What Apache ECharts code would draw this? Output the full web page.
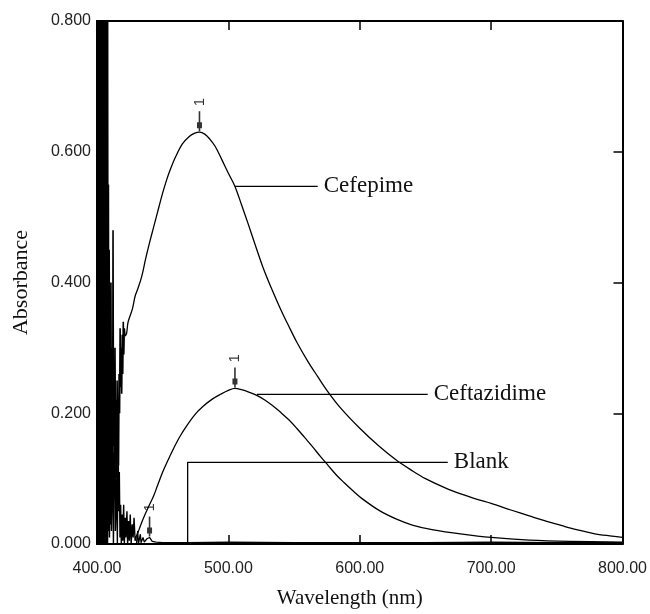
<!DOCTYPE html>
<html>
<head>
<meta charset="utf-8">
<script src="https://cdn.jsdelivr.net/npm/echarts@6/dist/echarts.min.js"></script>
<style>
  html, body { margin: 0; padding: 0; background: #fff; }
  #main { width: 650px; height: 614px; }
</style>
</head>
<body>
<div id="main"></div>
<script>
// wavelength (nm) / absorbance
// noisy start of the cefepime scan
var cefepimeNoiseWl = [400.0, 400.3, 400.6, 400.9, 401.2, 401.5, 401.8, 402.1, 402.4, 402.7, 403.0, 403.3, 403.6, 403.9, 404.2, 404.5, 404.8, 405.1, 405.4, 405.7, 406.0, 406.3, 406.6, 406.9, 407.2, 407.5, 407.8, 408.1,
  408.4, 408.7, 409.0, 409.3, 409.6, 409.9, 410.2, 410.6, 411.0, 411.4, 411.8, 412.2, 412.6,
  413.0, 413.4, 413.7, 414.1, 414.5, 414.9, 415.3, 415.7, 416.0, 416.4, 416.8, 417.2, 417.6, 418.0, 418.4, 418.8, 419.2, 419.6, 420.0, 420.4, 420.8, 421.3]
var cefepimeNoiseAbs = [0.00, 0.80, 0.00, 0.80, 0.01, 0.80, 0.00, 0.80, 0.02, 0.80, 0.00, 0.80, 0.05, 0.62, 0.00, 0.80, 0.01, 0.80, 0.00, 0.80, 0.03, 0.80, 0.00, 0.80, 0.02, 0.80, 0.00, 0.80,
  0.05, 0.55, 0.02, 0.45, 0.10, 0.38, 0.03, 0.40, 0.12, 0.30, 0.05, 0.48, 0.15,
  0.26, 0.08, 0.30, 0.14, 0.22, 0.10, 0.25, 0.18, 0.19, 0.12, 0.26, 0.20, 0.33, 0.24, 0.30, 0.23, 0.32, 0.26, 0.34, 0.29, 0.33, 0.318]
var cefepimeWl = [421.3, 422.5, 423.5, 425, 427, 429, 431, 434, 437, 440, 443, 446, 450, 453, 456, 460, 465, 470, 474, 478, 482, 486, 490, 495,
  500, 505, 510, 515, 520, 526, 533, 540, 546, 552, 560, 568, 575, 585, 600, 615, 628, 640, 650, 665, 678, 690, 700, 715, 729, 740, 754, 765, 778, 792, 800]
var cefepimeAbs = [0.318, 0.322, 0.338, 0.348, 0.360, 0.379, 0.390, 0.409, 0.436, 0.461, 0.484, 0.507, 0.537, 0.557, 0.574, 0.593, 0.612, 0.623, 0.628, 0.630, 0.627, 0.619, 0.608, 0.588,
  0.567, 0.547, 0.519, 0.490, 0.460, 0.425, 0.390, 0.358, 0.333, 0.309, 0.281, 0.256, 0.235, 0.209, 0.177, 0.149, 0.128, 0.112, 0.100, 0.086, 0.076, 0.068, 0.062, 0.052, 0.043, 0.036, 0.028, 0.022, 0.016, 0.012, 0.010]

var ceftazidimeNoiseWl = [408, 409, 409.5, 410.5, 411, 412, 412.5, 413.7, 414, 415, 415.5, 416, 416.5, 417, 417.5, 418, 418.5, 419.2, 419.6, 420.3, 420.8, 421.5, 422, 422.8, 423.3, 424, 424.6, 425.3, 426, 426.8, 427.5, 428.2, 429, 430]
var ceftazidimeNoiseAbs = [0.00, 0.15, 0.01, 0.20, 0.02, 0.14, 0.00, 0.25, 0.02, 0.10, 0.00, 0.19, 0.05, 0.11, 0.01, 0.06, 0.00, 0.045, 0.005, 0.06, 0.00, 0.04, 0.01, 0.05, 0.00, 0.035, 0.005, 0.045, 0.00, 0.03, 0.01, 0.04, 0.005, 0.012]
var ceftazidimeWl = [430, 432, 435, 439, 443, 446, 450, 454, 458, 463, 468, 475, 481, 488, 494, 500, 505, 510, 516, 522, 528, 534, 540, 546, 552, 558, 564, 570, 576,
  582, 588, 595, 602, 615, 628, 640, 655, 678, 700, 729, 760, 800]
var ceftazidimeAbs = [0.012, 0.022, 0.038, 0.056, 0.073, 0.089, 0.110, 0.128, 0.145, 0.164, 0.180, 0.199, 0.211, 0.222, 0.229, 0.235, 0.238, 0.236, 0.232, 0.227, 0.220, 0.211, 0.201, 0.190, 0.177, 0.163, 0.149, 0.134, 0.120,
  0.106, 0.094, 0.081, 0.069, 0.051, 0.038, 0.029, 0.022, 0.015, 0.010, 0.006, 0.004, 0.003]

var blankWl = [430, 431, 431.5, 433, 433.5, 435, 436, 438, 440, 442, 445, 450, 470, 500, 550, 600, 650, 700, 750, 800]
var blankAbs = [0.000, 0.020, 0.000, 0.015, 0.002, 0.010, 0.003, 0.008, 0.010, 0.004, 0.003, 0.002, 0.002, 0.003, 0.002, 0.002, 0.002, 0.003, 0.002, 0.002]

// peak markers "1"
var peakWl = [478, 505, 440]
var peakAbs = [0.630, 0.238, 0.010]

// leader lines to the curve names
var seriesNames = ['Cefepime', 'Ceftazidime', 'Blank']
var leaderWl = [[505, 568], [521.7, 651.7], [469, 469, 667]]
var leaderAbs = [[0.547, 0.547], [0.229, 0.229], [0.002, 0.125, 0.125]]

var xTicks = [400, 500, 600, 700, 800]
var yTicks = [0, 0.2, 0.4, 0.6, 0.8]

function zip(a, b) {
  return a.map(function (v, i) { return [v, b[i]] })
}

var ink = '#000'
var markerPath = 'path://M1.7,0 L3.3,0 L3.3,11 L5,11 L5,17 L3.3,17 L3.3,20 L1.7,20 L1.7,17 L0,17 L0,11 L1.7,11 Z'

var curve = function (name, data, smooth, width) {
  return {
    name: name,
    type: 'line',
    data: data,
    smooth: smooth,
    showSymbol: false,
    animation: false,
    lineStyle: { color: ink, width: width }
  }
}

var series = [
  curve('Cefepime noise', zip(cefepimeNoiseWl, cefepimeNoiseAbs), false, 1.6),
  curve('Cefepime', zip(cefepimeWl, cefepimeAbs), 0.35, 1.3),
  curve('Ceftazidime noise', zip(ceftazidimeNoiseWl, ceftazidimeNoiseAbs), false, 1.4),
  curve('Ceftazidime', zip(ceftazidimeWl, ceftazidimeAbs), 0.35, 1.3),
  curve('Blank', zip(blankWl, blankAbs), false, 1.3)
]

seriesNames.forEach(function (n, i) {
  series.push({
    name: n + ' leader',
    type: 'line',
    data: zip(leaderWl[i], leaderAbs[i]),
    showSymbol: false,
    animation: false,
    lineStyle: { color: ink, width: 1.3 },
    endLabel: {
      show: true,
      formatter: n,
      distance: 6,
      color: '#111',
      fontFamily: 'Liberation Serif',
      fontSize: 23
    }
  })
})

series.push({
  name: 'peaks',
  type: 'scatter',
  data: zip(peakWl, peakAbs),
  symbol: markerPath,
  symbolSize: [5, 20],
  symbolOffset: [0, -11],
  itemStyle: { color: ink },
  animation: false,
  label: {
    show: true,
    formatter: '1',
    position: 'top',
    rotate: 90,
    align: 'left',
    verticalAlign: 'middle',
    distance: 5,
    color: '#000',
    fontFamily: 'Liberation Sans',
    fontSize: 15
  }
})

var tickStyle = { show: true, inside: true, length: 9, lineStyle: { color: ink, width: 1.5 } }
var lineStyle = { show: true, onZero: false, lineStyle: { color: ink, width: 2 } }
var labelFont = { color: '#222', fontFamily: 'Liberation Sans', fontSize: 16 }

var myChart = echarts.init(document.getElementById('main'))
myChart.setOption({
  backgroundColor: '#fff',
  animation: false,
  grid: { left: 97, right: 27, top: 21, bottom: 69 },
  xAxis: [
    {
      type: 'value',
      min: xTicks[0],
      max: xTicks[xTicks.length - 1],
      interval: 100,
      name: 'Wavelength (nm)',
      nameLocation: 'middle',
      nameGap: 44,
      nameTextStyle: { color: '#111', fontFamily: 'Liberation Serif', fontSize: 21, padding: [0, 20, 0, 0] },
      axisLine: lineStyle,
      axisTick: tickStyle,
      splitLine: { show: false },
      axisLabel: Object.assign({ margin: 17, formatter: function (v) { return v.toFixed(2) } }, labelFont)
    },
    {
      type: 'value',
      position: 'top',
      min: xTicks[0],
      max: xTicks[xTicks.length - 1],
      interval: 100,
      axisLine: lineStyle,
      axisTick: tickStyle,
      splitLine: { show: false },
      axisLabel: { show: false }
    }
  ],
  yAxis: [
    {
      type: 'value',
      min: yTicks[0],
      max: yTicks[yTicks.length - 1],
      interval: 0.2,
      name: 'Absorbance',
      nameLocation: 'middle',
      nameGap: 65,
      nameTextStyle: { color: '#111', fontFamily: 'Liberation Serif', fontSize: 22 },
      axisLine: lineStyle,
      axisTick: tickStyle,
      splitLine: { show: false },
      axisLabel: Object.assign({ margin: 6, formatter: function (v) { return v.toFixed(3) } }, labelFont)
    },
    {
      type: 'value',
      position: 'right',
      min: yTicks[0],
      max: yTicks[yTicks.length - 1],
      interval: 0.2,
      axisLine: lineStyle,
      axisTick: tickStyle,
      splitLine: { show: false },
      axisLabel: { show: false }
    }
  ],
  series: series
})
</script>
</body>
</html>
